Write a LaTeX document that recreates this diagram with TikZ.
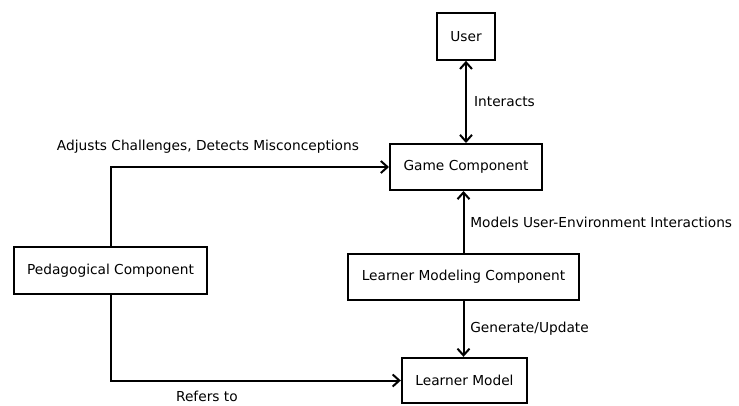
\documentclass[tikz,border=0pt]{standalone}
\usepackage{fontspec}
\setmainfont{DejaVu Sans}
\usetikzlibrary{arrows.meta,positioning}

\begin{document}
\begin{tikzpicture}[x=0.75pt, y=-0.75pt, font=\fontsize{10.3}{12}\selectfont,
    box/.style={draw, line width=1.5pt, rectangle, inner sep=2pt},
    link/.style={line width=1.5pt, -{Straight Barb[length=5pt, width=9pt, line width=1.5pt]}},
    both/.style={line width=1.5pt, {Straight Barb[length=5pt, width=9pt, line width=1.5pt]}-{Straight Barb[length=5pt, width=9pt, line width=1.5pt]}}]
    \useasboundingbox (0,0) rectangle (739,405);
    % the boxes
    \node[box, minimum width=44pt, minimum height=35pt] (user) at (466,36.5) {User};
    \node[box, minimum width=114pt, minimum height=34.5pt] (game) at (466,167) {Game Component};
    \node[box, minimum width=145pt, minimum height=35pt] (peda) at (110.5,270.5) {Pedagogical Component};
    \node[box, minimum width=173pt, minimum height=34.5pt] (lmc) at (463.5,277) {Learner Modeling Component};
    \node[box, minimum width=94pt, minimum height=34pt] (lmodel) at (464.5,380.5) {Learner Model};
    % the links
    \draw[both] (user) -- node[right, xshift=2pt] (interacts) {Interacts} (game);
    \draw[link] (peda.north) |- node[pos=0.675, above=6pt] (adjusts) {Adjusts Challenges, Detects Misconceptions} (game.west);
    \draw[link] (lmc.north) -- node[right, xshift=1pt] (models) {Models User-Environment Interactions} (lmc.north |- game.south);
    \draw[link] (lmc.south) -- node[right, xshift=1pt] (generate) {Generate/Update} (lmc.south |- lmodel.north);
    \draw[link] (peda.south) |- node[pos=0.666, below=4pt] (refers) {Refers to} (lmodel.west);
\end{tikzpicture}
\end{document}
